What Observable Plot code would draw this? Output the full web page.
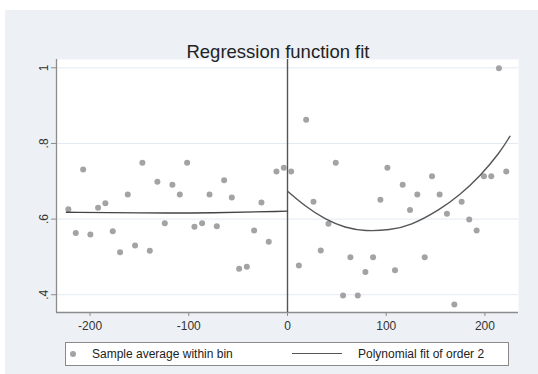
<!DOCTYPE html>
<html><head><meta charset="utf-8">
<script src="https://cdn.jsdelivr.net/npm/d3@7"></script>
<script src="https://cdn.jsdelivr.net/npm/@observablehq/plot@0.6"></script>
<style>
body{margin:0;background:#fff;font-family:"Liberation Sans",Arial,sans-serif;}
#wrap{position:relative;width:538px;height:374px;overflow:hidden;}
#bg{position:absolute;left:5px;top:10px;right:0;bottom:0;background:#edf1f6;}
#chart{position:absolute;left:0;top:0;}
#title{position:absolute;left:0;width:556px;top:42px;line-height:20px;text-align:center;font-size:18.5px;color:#222;}
#legend{position:absolute;left:65px;top:342px;width:442px;height:22px;background:#fff;border:1px solid #8a8a8a;font-size:12px;color:#222;}
#legend span{position:absolute;top:0;line-height:22px;white-space:nowrap;}
</style></head>
<body>
<div id="wrap">
  <div id="bg"></div>
  <div id="chart"></div>
  <div id="title">Regression function fit</div>
  <div id="legend">
    <span style="left:4px;top:8px;width:6px;height:6px;border-radius:50%;background:#a3a3a3;"></span>
    <span style="left:26px;">Sample average within bin</span>
    <span style="left:226px;top:10px;width:50px;height:0;border-top:1.5px solid #555;"></span>
    <span style="left:292px;">Polynomial fit of order 2</span>
  </div>
</div>
<script>
// Binned sample averages (left of cutoff)
const leftBinX = [-222,-214.5,-207,-199.7,-191.9,-184.5,-177,-169.6,-161.8,-154.4,-147,-139.5,-131.8,-124.3,-116.6,-109.1,-101.7,-94.3,-86.5,-79,-71.6,-64.2,-56.4,-49,-41.2,-33.8,-26.4,-19,-11.2,-3.7];
const leftBinY = [0.626,0.563,0.731,0.559,0.630,0.642,0.568,0.512,0.665,0.530,0.749,0.516,0.699,0.589,0.691,0.665,0.749,0.580,0.589,0.665,0.581,0.703,0.657,0.469,0.474,0.570,0.644,0.540,0.726,0.736];
// Binned sample averages (right of cutoff)
const rightBinX = [3.7,11.5,18.9,26.3,33.7,41.5,48.9,56.3,63.7,71.2,78.9,86.7,94.1,101.2,108.9,116.7,124.1,131.5,139,146.4,154.1,161.5,169,176.4,184.1,191.6,199,206.4,214.2,221.6];
const rightBinY = [0.726,0.477,0.863,0.646,0.517,0.588,0.749,0.398,0.499,0.398,0.460,0.499,0.651,0.736,0.465,0.691,0.624,0.665,0.499,0.713,0.665,0.614,0.374,0.646,0.599,0.570,0.713,0.713,0.999,0.726];
// Polynomial fit (order 2)
const leftFitX = [-224, -150, -75, 0];
const leftFitY = [0.618, 0.616, 0.616, 0.621];
const rightFitX = [0.4, 17.9, 38.2, 58.4, 78.6, 103.9, 124.2, 154.5, 174.7, 194.9, 215.2, 225.3];
const rightFitY = [0.673, 0.634, 0.599, 0.577, 0.568, 0.571, 0.582, 0.625, 0.664, 0.713, 0.776, 0.819];
// Axis ticks
const xTicks = [-200, -100, 0, 100, 200];
const xTickLabels = ["-200", "-100", "0", "100", "200"];
const yTicks = [0.4, 0.6, 0.8, 1];
const yTickLabels = [".4", ".6", ".8", "1"];

const bins = [
  ...leftBinX.map((x, i) => ({x, y: leftBinY[i]})),
  ...rightBinX.map((x, i) => ({x, y: rightBinY[i]}))
];
const leftFit = leftFitX.map((x, i) => ({x, y: leftFitY[i]}));
const rightFit = rightFitX.map((x, i) => ({x, y: rightFitY[i]}));
const xDom = [-234, 234], yDom = [0.353, 1.022];

const chart = Plot.plot({
  width: 538, height: 340,
  marginLeft: 56, marginRight: 20, marginTop: 59, marginBottom: 28,
  style: {background: "transparent", fontFamily: "Liberation Sans, Arial, sans-serif", fontSize: "12px", color: "#333"},
  x: {domain: xDom},
  y: {domain: yDom},
  marks: [
    Plot.frame({fill: "white", stroke: "none"}),
    Plot.gridY(yTicks, {stroke: "#e3eaf1", strokeOpacity: 1}),
    Plot.ruleX([xDom[0]], {stroke: "#8c8c8c", strokeWidth: 1.3}),
    Plot.ruleY([yDom[0]], {stroke: "#8c8c8c", strokeWidth: 1.3}),
    Plot.ruleX([0], {stroke: "#555", strokeWidth: 1.4}),
    Plot.dot(bins, {x: "x", y: "y", r: 3, fill: "#a3a3a3", stroke: "none"}),
    Plot.line(leftFit, {x: "x", y: "y", stroke: "#444", strokeWidth: 1.4, curve: "basis"}),
    Plot.line(rightFit, {x: "x", y: "y", stroke: "#555", strokeWidth: 1.4, curve: "basis"}),
    Plot.axisX(xTicks, {tickSize: 4, tickPadding: 5, stroke: "#8c8c8c", fill: "#333", label: null,
      tickFormat: d => xTickLabels[xTicks.indexOf(d)]}),
    Plot.axisY(yTicks, {tickSize: 5, tickPadding: 4, tickRotate: -90, stroke: "#8c8c8c", fill: "#333", label: null,
      tickFormat: d => yTickLabels[yTicks.indexOf(d)]})
  ]
});
document.getElementById("chart").appendChild(chart);
</script>
</body></html>
